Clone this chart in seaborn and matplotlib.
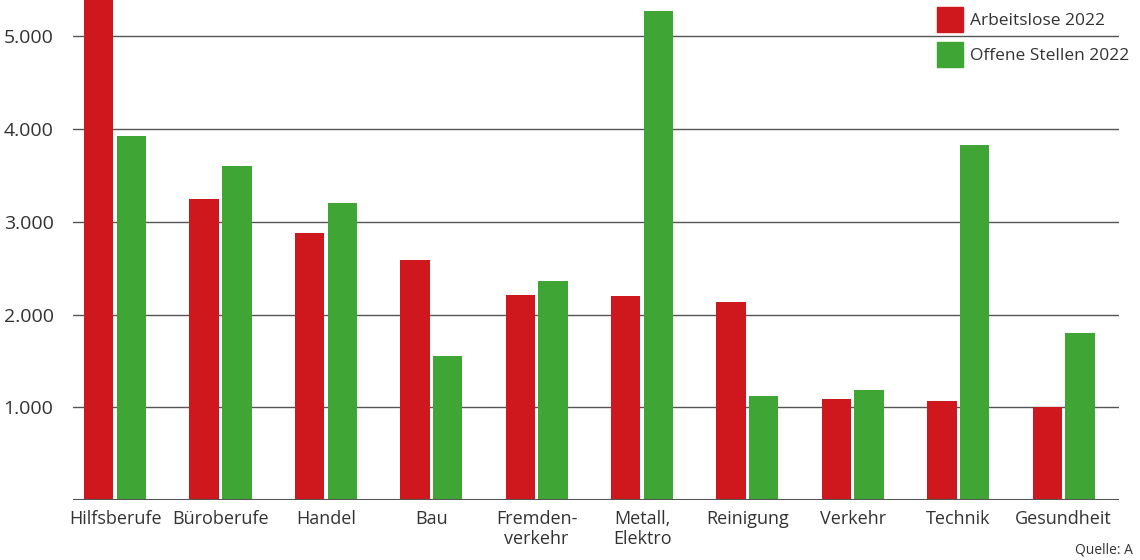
import matplotlib
matplotlib.use("Agg")
import matplotlib.pyplot as plt
import matplotlib.patches as mpatches
import pandas as pd
import seaborn as sns

# Data
categories = ["Hilfsberufe", "Büroberufe", "Handel", "Bau", "Fremden-\nverkehr",
              "Metall,\nElektro", "Reinigung", "Verkehr", "Technik", "Gesundheit"]
arbeitslose = [5600, 3240, 2880, 2590, 2215, 2195, 2140, 1085, 1065, 1000]
offene_stellen = [3925, 3605, 3205, 1550, 2365, 5270, 1120, 1185, 3830, 1805]
series_names = ["Arbeitslose 2022", "Offene Stellen 2022"]
y_ticks = [1000, 2000, 3000, 4000, 5000]
y_tick_labels = ["1.000", "2.000", "3.000", "4.000", "5.000"]

RED = "#CE181E"
GREEN = "#3FA535"
TEXT = "#333333"

df = pd.DataFrame({
    "Beruf": categories * 2,
    "Wert": arbeitslose + offene_stellen,
    "Serie": [series_names[0]] * len(categories) + [series_names[1]] * len(categories),
})

sns.set_theme(style="white")
plt.rcParams["font.family"] = ["Open Sans", "DejaVu Sans"]

fig = plt.figure(figsize=(11.4, 5.6), dpi=100)
ax = fig.add_axes([0.064, 0.107, 0.918, 0.893])

sns.barplot(data=df, x="Beruf", y="Wert", hue="Serie", hue_order=series_names,
            palette=[RED, GREEN], width=0.62, gap=0.1, saturation=1,
            linewidth=0, ax=ax, legend=False, zorder=3)

ax.set_xlim(-0.4, 9.53)
ax.set_ylim(0, 5390)
ax.set_yticks(y_ticks)
ax.set_yticklabels(y_tick_labels)
ax.yaxis.grid(True, color="#555555", linewidth=1, zorder=0)
ax.set_axisbelow(True)
ax.axhline(0, color="#555555", linewidth=1.5, zorder=4)
for spine in ax.spines.values():
    spine.set_visible(False)
ax.set_xlabel("")
ax.set_ylabel("")
ax.tick_params(axis="both", length=0, colors=TEXT)
ax.tick_params(axis="y", pad=14, labelsize=14)
ax.tick_params(axis="x", pad=7, labelsize=13)
for lbl in ax.get_xticklabels():
    lbl.set_linespacing(1.15)

handles = [mpatches.Patch(color=RED, label=series_names[0]),
           mpatches.Patch(color=GREEN, label=series_names[1])]
fig.legend(handles=handles, loc="upper left", bbox_to_anchor=(937 / 1140, 1 - 7 / 560),
           frameon=False, fontsize=12.5, labelcolor=TEXT,
           handlelength=1.5, handleheight=1.8, handletextpad=0.4,
           labelspacing=0.6, borderpad=0, borderaxespad=0)

fig.text(1075 / 1140, 0.005, "Quelle: A", ha="left", va="bottom",
         fontsize=10, color=TEXT)

fig.savefig("out.png", dpi=100)
plt.close(fig)
